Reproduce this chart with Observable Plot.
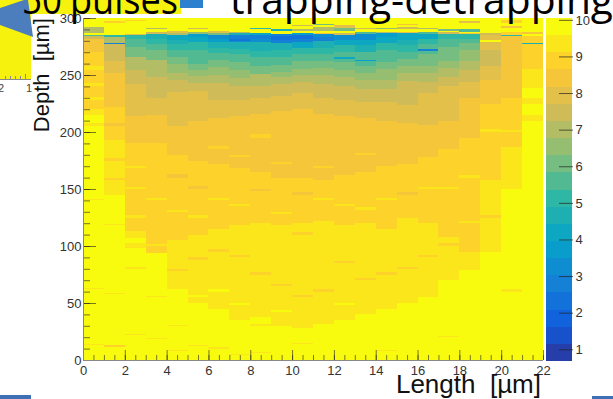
<!DOCTYPE html>
<html><head><meta charset="utf-8">
<script src="https://cdn.jsdelivr.net/npm/d3@7"></script>
<script src="https://cdn.jsdelivr.net/npm/@observablehq/plot@0.6"></script>
<style>
body{margin:0;background:#fff;}
#wrap{position:relative;width:613px;height:399px;overflow:hidden;font-family:"Liberation Sans",Arial,sans-serif;}
#wrap > svg{position:absolute;left:0;top:0;}
</style></head><body>
<div id="wrap">
<svg id="bg" width="613" height="399">
  <rect x="0" y="0" width="31" height="80" fill="#f7f20d"/>
  <rect x="25" y="0" width="156" height="14" fill="#f7f20d"/>
  <rect x="180" y="0" width="23" height="8" fill="#2d7fd0"/>
  <polygon points="0,8 24,0 28,0 33,37 0,25" fill="#4c7dbc"/>
  <line x1="0" y1="79.5" x2="31" y2="79.5" stroke="#8a8a8a"/>
  <g stroke="#8a8a8a"><line x1="5.5" y1="79" x2="5.5" y2="76"/><line x1="10.5" y1="79" x2="10.5" y2="76"/><line x1="15.5" y1="79" x2="15.5" y2="76"/><line x1="20.5" y1="79" x2="20.5" y2="76"/><line x1="25.5" y1="79" x2="25.5" y2="74"/></g>
  <text x="-2" y="92" font-size="11" fill="#444">2</text>
  <text x="26" y="92" font-size="11" fill="#444">1</text>
  <rect x="0" y="395" width="31" height="4" fill="#3f6fb5"/>
  <rect x="592" y="396" width="21" height="3" fill="#3f6fb5"/>
</svg>
</div>
<script>
// ---- data ----
const lengthBins = [0,1,2,3,4,5,6,7,8,9,10,11,12,13,14,15,16,17,18,19,20,21];
const binWidth = 1;
// per length bin: runs from depth 0 upward, [top depth (µm), value]
const depthRuns = [
 [[13,9.9],[14,9.4],[62,9.9],[63,9.4],[140,9.9],[141,9.4],[205,9.9],[208,9.4],[215,9.9],[220,9.4],[228,8.9],[231,9.4],[240,8.9],[243,9.5],[254,8.9],[258,9.5],[270,8.8],[282,8.5],[284,7.4],[285,5.4],[287,9.6],[292,7.2],[300,9.9]],
 [[11,9.9],[13,8.9],[58,9.9],[59,9.4],[118,9.9],[119,9.4],[145,9.9],[158,9.4],[160,8.9],[175,9.4],[177,8.9],[193,9.4],[205,8.9],[208,8.4],[222,8.9],[240,8.5],[252,8.2],[262,7.9],[270,7.6],[277,7.3],[278.5,3.0],[283,7.2],[285,5.0],[286,9.6],[296,9.9],[297,8.9],[300,9.9]],
 [[22,9.9],[23,9.4],[80,9.9],[82,9.4],[98,9.9],[103,9.4],[107,9.9],[113,9.4],[125,8.9],[127,9.4],[150,8.9],[152,9.4],[168,8.9],[170,9.3],[190,8.9],[202,8.4],[214,8.6],[228,8.1],[242,7.8],[254,7.5],[260,7.0],[266,6.8],[271,6.3],[275,6.0],[282,5.6],[285,5.0],[286,7.8],[297,9.9],[298,8.9],[300,9.9]],
 [[18,9.9],[19,9.4],[55,9.9],[56,9.4],[94,9.9],[100,8.9],[102,9.4],[140,8.9],[142,9.3],[190,8.9],[200,8.4],[215,8.3],[230,7.9],[248,7.6],[256,7.1],[263,6.8],[268,6.3],[272,5.9],[277,5.5],[282,5.2],[286,4.6],[288,7.6],[290,9.8],[291,7.2],[300,9.9]],
 [[8,9.9],[9,9.4],[30,9.9],[31,9.4],[62,9.9],[78,9.35],[80,8.9],[105,9.35],[130,8.9],[132,9.4],[160,8.9],[163,8.4],[180,8.9],[205,8.4],[222,8.1],[235,7.9],[246,7.5],[252,7.1],[260,6.6],[266,6.1],[272,5.7],[277,5.2],[281,4.8],[285,4.2],[287,7.0],[289,7.8],[300,9.9]],
 [[12,9.9],[13,9.4],[50,9.9],[55,9.35],[57,9.9],[88,9.35],[90,8.9],[110,9.35],[125,8.9],[127,9.4],[150,8.9],[153,8.4],[175,8.9],[210,8.4],[226,8.0],[236,7.8],[243,7.4],[249,7.0],[254,6.7],[260,6.2],[266,5.8],[272,5.4],[279,4.9],[283,4.2],[286,3.8],[288,6.5],[290,9.6],[291,7.5],[300,9.9]],
 [[10,9.9],[11,9.4],[45,9.9],[60,9.35],[62,9.9],[66,9.35],[95,9.35],[97,8.9],[115,9.35],[140,8.9],[142,9.35],[172,8.9],[185,8.4],[188,8.9],[212,8.4],[228,8.0],[243,7.6],[250,7.1],[257,6.7],[263,6.2],[269,5.7],[274,5.2],[279,4.6],[282,3.7],[285,3.2],[287,6.0],[289,8.0],[300,9.9]],
 [[4,9.9],[5,9.4],[35,9.9],[48,9.35],[50,9.9],[90,9.35],[92,8.9],[118,9.35],[135,8.9],[137,9.35],[168,8.9],[178,8.4],[180,8.9],[214,8.4],[228,8.0],[240,7.6],[247,7.1],[254,6.7],[261,6.1],[268,5.6],[273,5.1],[279,4.5],[280,3.2],[281.5,2.2],[285,2.9],[286.5,4.8],[288,7.2],[289.5,9.8],[300,9.9]],
 [[6,9.9],[7,9.4],[30,9.9],[32,9.4],[38,9.9],[75,9.35],[77,8.9],[120,9.35],[148,8.9],[150,8.4],[165,8.9],[195,8.4],[198,8.9],[216,8.4],[230,8.0],[240,7.6],[246,7.1],[251,6.8],[258,6.2],[266,5.7],[271,5.2],[279,4.6],[282,3.4],[285,2.7],[286.5,4.2],[290,9.8],[291.5,5.3],[300,9.9]],
 [[30,9.9],[42,9.35],[44,9.9],[65,9.35],[67,8.9],[118,9.35],[128,8.9],[130,9.35],[160,8.9],[172,8.4],[174,8.9],[218,8.4],[232,8.0],[242,7.6],[248,7.1],[253,6.7],[259,6.2],[266,5.8],[272,5.2],[278,4.5],[281,3.0],[284,2.4],[286,3.0],[288.5,9.7],[290,4.8],[294,9.8],[300,9.9]],
 [[14,9.9],[15,9.4],[28,9.9],[55,9.35],[57,8.9],[110,9.35],[112,8.9],[120,9.35],[145,8.9],[147,8.4],[160,8.9],[220,8.4],[234,8.0],[244,7.5],[250,7.0],[255,6.6],[262,6.1],[268,5.6],[274,5.0],[279,4.4],[282,2.9],[285,2.3],[287,3.6],[289,9.8],[290,6.8],[293,9.8],[294,7.6],[300,9.9]],
 [[32,9.9],[60,9.35],[62,8.9],[122,9.35],[140,8.9],[142,9.35],[158,8.9],[168,8.4],[170,8.9],[216,8.4],[230,8.0],[242,7.6],[250,7.0],[256,6.6],[262,6.1],[268,5.7],[274,5.1],[280,4.5],[283,2.9],[286,3.3],[287,8.4],[289,9.8],[292,7.0],[294,9.8],[295,6.0],[300,9.9]],
 [[35,9.9],[48,9.35],[50,9.9],[85,9.35],[87,8.9],[118,9.35],[135,8.9],[137,9.35],[162,8.9],[214,8.4],[228,8.0],[240,7.6],[248,7.1],[254,6.6],[261,6.1],[264,5.6],[265.5,4.4],[270,5.4],[276,4.9],[281,4.3],[285,3.1],[287,7.6],[289,9.8],[291,6.2],[294,8.0],[300,9.9]],
 [[40,9.9],[70,9.35],[72,8.9],[120,9.35],[132,8.9],[134,9.35],[165,8.9],[180,8.4],[182,8.9],[212,8.4],[226,8.0],[238,7.6],[246,7.1],[252,6.6],[258,6.1],[262,5.6],[263.5,3.6],[270,5.4],[276,4.8],[281,4.2],[286,3.2],[288,5.6],[290,9.8],[291,7.4],[300,9.9]],
 [[8,9.9],[9,9.4],[45,9.9],[75,9.35],[77,8.9],[115,9.35],[140,8.9],[142,9.35],[170,8.9],[210,8.4],[226,8.0],[238,7.7],[246,7.2],[255,6.7],[261,6.2],[266,5.8],[272,5.4],[278,4.9],[283,4.3],[286.5,3.9],[288,7.0],[290,9.8],[291,6.5],[300,9.9]],
 [[50,9.9],[80,9.35],[82,8.9],[125,9.35],[145,8.9],[147,8.4],[172,8.9],[208,8.4],[224,8.0],[236,7.7],[245,7.3],[252,6.9],[258,6.5],[264,6.1],[270,5.7],[276,5.2],[281,4.7],[286.5,4.3],[288,7.8],[290,9.8],[292,7.6],[294,9.8],[295,8.4],[300,9.9]],
 [[55,9.9],[90,9.35],[92,8.9],[120,9.35],[150,8.9],[152,9.35],[178,8.9],[206,8.4],[222,8.0],[234,7.8],[244,7.4],[252,7.0],[258,6.6],[263,6.2],[268,5.9],[271,5.6],[272.5,3.0],[277,5.4],[282,4.9],[286,4.3],[288,5.8],[290,9.8],[291,7.2],[300,9.9]],
 [[20,9.9],[21,9.4],[70,9.9],[100,9.35],[103,8.9],[108,9.35],[150,8.9],[152,9.35],[185,8.9],[210,8.4],[228,8.1],[240,7.8],[248,7.5],[256,7.1],[262,6.7],[268,6.3],[275,6.0],[282,5.7],[286,5.2],[287.5,7.6],[289,9.8],[290,6.0],[300,9.9]],
 [[79,9.9],[95,9.35],[120,8.9],[122,9.35],[160,8.9],[162,9.35],[195,8.9],[230,8.4],[244,8.0],[254,7.6],[262,7.2],[272,6.7],[278,6.2],[282,5.8],[286,4.9],[287,8.4],[288,9.8],[290,5.6],[296,9.8],[297,8.0],[300,9.9]],
 [[95,9.9],[125,9.35],[127,8.9],[158,9.35],[200,8.9],[203,9.35],[225,8.9],[246,8.4],[258,7.9],[272,7.6],[279,7.9],[280.5,9.7],[285,7.8],[286.5,7.3],[288,9.8],[300,9.9]],
 [[60,9.9],[62,9.35],[150,9.9],[187,9.35],[200,8.9],[202,9.35],[230,8.9],[254,8.5],[270,8.2],[284,8.4],[285.5,5.2],[288,8.9],[291,9.8],[293,8.6],[296,9.8],[298,8.9],[300,9.9]],
 [[210,9.9],[215,9.35],[225,9.9],[230,9.35],[239,9.9],[255,9.35],[277,8.9],[278.5,4.8],[284,8.9],[286,9.8],[288,8.6],[300,9.9]]
];
const xTicks = [0,2,4,6,8,10,12,14,16,18,20,22];
const yTicks = [0,50,100,150,200,250,300];
const zTicks = [1,2,3,4,5,6,7,8,9,10];
const zDomain = [0.68, 10.05];
const nLevels = 20;

// ---- ROOT kBird palette ----
const birdR = [0.2082,0.0592,0.0780,0.0232,0.1802,0.5301,0.8186,0.9956,0.9764];
const birdG = [0.1664,0.3599,0.5041,0.6419,0.7178,0.7492,0.7328,0.7862,0.9832];
const birdB = [0.5293,0.8684,0.8385,0.7914,0.6425,0.4662,0.3499,0.1968,0.0539];
const bird = d3.piecewise(d3.interpolateRgb, birdR.map((r,i)=>d3.rgb(r*255,birdG[i]*255,birdB[i]*255)));
const step = (zDomain[1]-zDomain[0])/nLevels;
const colorScale = {
  type: "threshold",
  domain: d3.range(1,nLevels).map(i => zDomain[0]+i*step),
  range: d3.range(nLevels).map(i => bird(Math.min(1,(i+0.99)/nLevels)))
};

const cells = [];
lengthBins.forEach((c,i) => {
  let prev = 0;
  depthRuns[i].forEach(([top,z]) => { cells.push({x1:c, x2:c+binWidth, y1:prev, y2:top, z}); prev = top; });
});

const tickStroke = {stroke:"#222", strokeOpacity:0.6};
const wrap = document.getElementById("wrap");

const main = Plot.plot({
  width:613, height:399, marginLeft:83, marginRight:70, marginTop:18, marginBottom:39,
  style:{background:"transparent", fontFamily:"Liberation Sans, Arial, sans-serif", overflow:"visible"},
  x:{domain:[0,22], label:null},
  y:{domain:[0,300], label:null},
  color: colorScale,
  marks:[
    Plot.rect(cells,{x1:"x1",x2:"x2",y1:"y1",y2:"y2",fill:"z",shapeRendering:"crispEdges"}),
    Plot.axisY({ticks:d3.range(0,301,10), tickSize:-7, tickFormat:()=>"", ...tickStroke}),
    Plot.axisY({ticks:yTicks, tickSize:-13, tickFormat:()=>"", ...tickStroke}),
    Plot.axisY({ticks:yTicks, tickSize:0, tickPadding:2, fontSize:13, fill:"#333"}),
    Plot.axisX({ticks:d3.range(0,22.1,0.5), tickSize:-5, tickFormat:()=>"", ...tickStroke}),
    Plot.axisX({ticks:xTicks, tickSize:-10, tickFormat:()=>"", ...tickStroke}),
    Plot.axisX({ticks:xTicks, tickSize:0, tickPadding:5, fontSize:13, fill:"#333"}),
    Plot.ruleX([0],{stroke:"#888"}),
    Plot.ruleY([0],{stroke:"#888"})
  ]
});
wrap.appendChild(main);

const bands = d3.range(nLevels).map(i => ({lo:zDomain[0]+i*step, hi:zDomain[0]+(i+1)*step}));
const bar = Plot.plot({
  width:613, height:399, marginLeft:546, marginRight:41, marginTop:18, marginBottom:38,
  style:{background:"transparent", fontFamily:"Liberation Sans, Arial, sans-serif", overflow:"visible"},
  x:{domain:[0,1], axis:null},
  y:{domain:zDomain, label:null},
  color: colorScale,
  marks:[
    Plot.rect(bands,{x1:0,x2:1,y1:"lo",y2:"hi",fill:d=>(d.lo+d.hi)/2,shapeRendering:"crispEdges"}),
    Plot.axisY({anchor:"right", ticks:zTicks, tickSize:-14, tickFormat:()=>"", stroke:"#222", strokeOpacity:0.7}),
    Plot.axisY({anchor:"right", ticks:zTicks, tickSize:0, tickPadding:3, fontSize:13, fill:"#333"})
  ]
});
wrap.appendChild(bar);

const ns = "http://www.w3.org/2000/svg";
const ov = document.createElementNS(ns,"svg");
ov.setAttribute("width",613); ov.setAttribute("height",399);
ov.innerHTML = `
  <g font-family="Open Sans, sans-serif" font-size="40" fill="#000">
    <text x="22" y="14" textLength="40" lengthAdjust="spacingAndGlyphs">50</text>
    <text x="70" y="14" textLength="108" lengthAdjust="spacingAndGlyphs">pulses</text>
    <text x="230" y="14" textLength="383" lengthAdjust="spacingAndGlyphs">trapping-detrapping</text>
  </g>
  <text transform="translate(49,18) rotate(-90)" text-anchor="end" font-family="Liberation Sans, Arial, sans-serif" font-size="22" fill="#111" style="white-space:pre">Depth  [µm]</text>
  <text x="541" y="393" text-anchor="end" font-family="Liberation Sans, Arial, sans-serif" font-size="26" fill="#111" style="white-space:pre">Length  [µm]</text>`;
wrap.appendChild(ov);
</script>
</body></html>
